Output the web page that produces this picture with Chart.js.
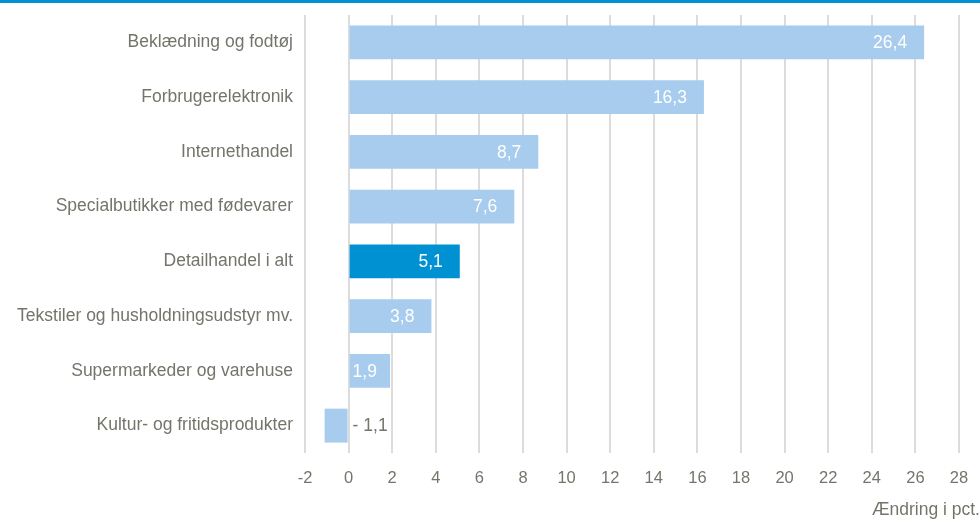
<!DOCTYPE html>
<html>
<head>
<meta charset="utf-8">
<script src="https://cdn.jsdelivr.net/npm/chart.js@4"></script>
<style>
  html, body { margin: 0; padding: 0; background: #fff; }
  #wrap { width: 980px; height: 520px; }
</style>
</head>
<body>
<div id="wrap"><canvas id="graf" width="980" height="520"></canvas></div>
<script>
// data
const kategorier = [
    'Beklædning og fodtøj',
    'Forbrugerelektronik',
    'Internethandel',
    'Specialbutikker med fødevarer',
    'Detailhandel i alt',
    'Tekstiler og husholdningsudstyr mv.',
    'Supermarkeder og varehuse',
    'Kultur- og fritidsprodukter'
];
const aendring = [26.4, 16.3, 8.7, 7.6, 5.1, 3.8, 1.9, -1.1];
const fremhaevet = 'Detailhandel i alt';
const xMin = -2, xMax = 28, xTrin = 2;
const akseTitel = 'Ændring i pct.';

const lysBlaa = '#a7cced';
const morkBlaa = '#0091d3';
const tekstFarve = '#75746a';
const skrift = "'Liberation Sans', Arial, sans-serif";

const farver = kategorier.map(k => k === fremhaevet ? morkBlaa : lysBlaa);

function formatTal(v) {
    const s = Math.abs(v).toFixed(1).replace('.', ',');
    return v < 0 ? '- ' + s : s;
}

// blå streg i toppen + aksetitel
const pynt = {
    id: 'pynt',
    beforeDraw(chart) {
        const ctx = chart.ctx;
        ctx.save();
        ctx.fillStyle = morkBlaa;
        ctx.fillRect(0, 0, chart.width, 3);
        ctx.restore();
    },
    afterDraw(chart) {
        const ctx = chart.ctx;
        ctx.save();
        ctx.font = '17.5px ' + skrift;
        ctx.fillStyle = tekstFarve;
        ctx.textAlign = 'left';
        ctx.textBaseline = 'middle';
        ctx.fillText(akseTitel, 872, 510);
        ctx.restore();
    }
};

// værdier på søjlerne
const vaerdiLabels = {
    id: 'vaerdiLabels',
    afterDatasetsDraw(chart) {
        const ctx = chart.ctx;
        const meta = chart.getDatasetMeta(0);
        const x0 = chart.scales.x.getPixelForValue(0);
        ctx.save();
        ctx.font = '17.5px ' + skrift;
        ctx.textBaseline = 'middle';
        meta.data.forEach((bar, i) => {
            const v = aendring[i];
            const txt = formatTal(v);
            const w = ctx.measureText(txt).width;
            if (v >= 0) {
                let xr = bar.x - 17;
                if (xr - w < x0 + 4) xr = x0 + 4 + w;
                ctx.fillStyle = '#ffffff';
                ctx.textAlign = 'right';
                ctx.fillText(txt, xr, bar.y + 1);
            } else {
                ctx.fillStyle = tekstFarve;
                ctx.textAlign = 'left';
                ctx.fillText(txt, x0 + 4, bar.y + 1);
            }
        });
        ctx.restore();
    }
};

const ctx = document.getElementById('graf').getContext('2d');
const graf = new Chart(ctx, {
    type: 'bar',
    data: {
        labels: kategorier,
        datasets: [{
            data: aendring,
            backgroundColor: farver,
            borderWidth: 0,
            barPercentage: 0.62,
            categoryPercentage: 1
        }]
    },
    options: {
        indexAxis: 'y',
        responsive: false,
        animation: false,
        layout: { padding: { top: 15, right: 21, bottom: 32, left: 0 } },
        plugins: {
            legend: { display: false },
            tooltip: { enabled: false }
        },
        scales: {
            x: {
                min: xMin,
                max: xMax,
                afterFit: s => { s.height = 35; s.paddingLeft = 0; s.paddingRight = 0; },
                border: { display: false },
                grid: { color: '#dcdcdc', lineWidth: 2, drawTicks: false },
                ticks: {
                    stepSize: xTrin,
                    padding: 16,
                    color: tekstFarve,
                    font: { family: skrift, size: 16.5 },
                    callback: v => String(v)
                }
            },
            y: {
                afterFit: s => { s.width = 305; s.paddingTop = 0; s.paddingBottom = 0; },
                border: { display: false },
                grid: { display: false, drawTicks: false },
                ticks: {
                    padding: 12,
                    color: tekstFarve,
                    font: { family: skrift, size: 17.5 }
                }
            }
        }
    },
    plugins: [pynt, vaerdiLabels]
});
</script>
</body>
</html>
